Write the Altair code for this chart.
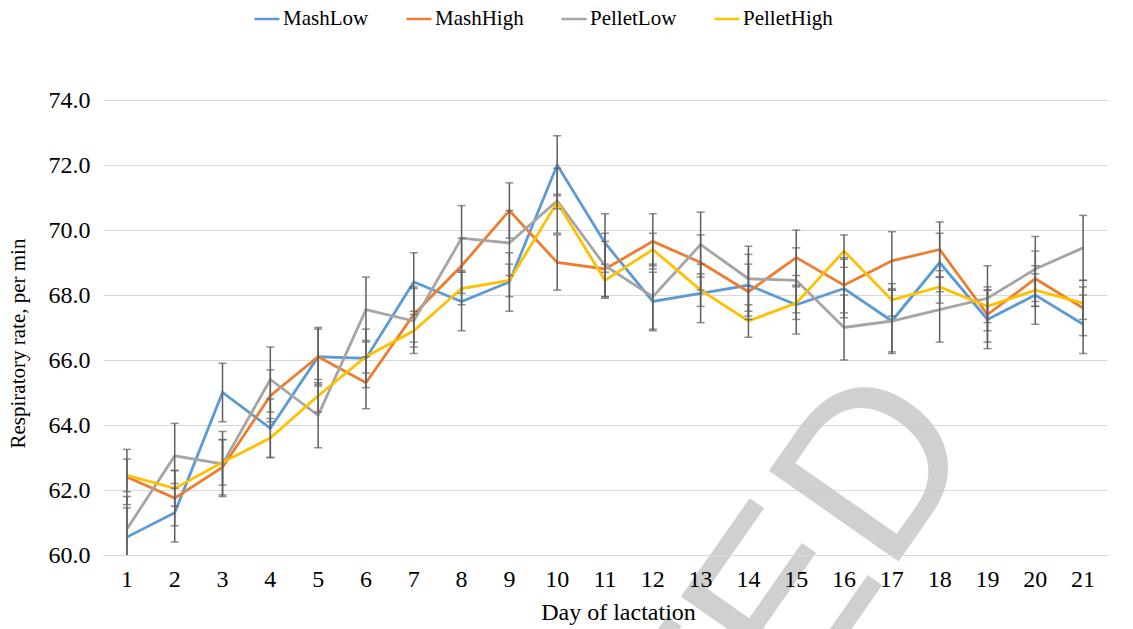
import altair as alt
import pandas as pd

# Day of lactation
days = list(range(1, 22))

# Treatment groups and their line colours
series_names = ["MashLow", "MashHigh", "PelletLow", "PelletHigh"]
series_colors = ["#5B9BD5", "#ED7D31", "#A5A5A5", "#FFC000"]

# Mean respiratory rate (breaths per min)
mash_low = [60.55, 61.30, 65.00, 63.90, 66.10, 66.05, 68.40, 67.80, 68.40, 72.00, 69.60,
            67.80, 68.05, 68.30, 67.70, 68.20, 67.20, 69.00, 67.25, 68.00, 67.10]
mash_high = [62.40, 61.75, 62.70, 64.90, 66.10, 65.30, 67.40, 68.90, 70.60, 69.00, 68.80,
             69.65, 69.00, 68.10, 69.15, 68.30, 69.05, 69.40, 67.40, 68.50, 67.60]
pellet_low = [60.80, 63.05, 62.80, 65.40, 64.30, 67.55, 67.20, 69.75, 69.60, 70.90, 68.90,
              67.95, 69.55, 68.50, 68.45, 67.00, 67.20, 67.55, 67.90, 68.80, 69.45]
pellet_high = [62.45, 62.05, 62.85, 63.60, 64.90, 66.10, 66.90, 68.20, 68.45, 70.85, 68.45,
               69.40, 68.15, 67.20, 67.75, 69.35, 67.85, 68.25, 67.65, 68.15, 67.75]

# Standard errors of the means
mash_low_se = [0.90, 0.90, 0.90, 0.90, 0.90, 0.90, 0.90, 0.90, 0.90, 0.90, 0.90,
               0.90, 0.90, 0.95, 0.90, 0.90, 0.95, 0.90, 0.90, 0.90, 0.90]
mash_high_se = [0.85, 0.85, 0.85, 0.80, 0.85, 0.80, 0.85, 0.85, 0.85, 0.85, 0.85,
                0.85, 0.85, 0.85, 0.85, 0.85, 0.90, 0.85, 0.85, 0.85, 0.85]
pellet_low_se = [1.00, 1.00, 1.00, 1.00, 1.00, 1.00, 1.00, 1.00, 1.00, 1.00, 1.00,
                 1.00, 1.00, 1.00, 1.00, 1.00, 1.00, 1.00, 1.00, 1.00, 1.00]
pellet_high_se = [0.50, 0.55, 0.70, 0.60, 0.50, 0.50, 0.50, 0.50, 0.50, 0.20, 0.50,
                  0.50, 0.50, 0.50, 0.50, 0.50, 0.50, 0.50, 0.50, 0.50, 0.50]

# Y axis tick values
y_ticks = [60, 62, 64, 66, 68, 70, 72, 74]

# Diagonal stamp across the lower right of the plot
stamp_text = ["ACCEPTED"]

means = [mash_low, mash_high, pellet_low, pellet_high]
errors = [mash_low_se, mash_high_se, pellet_low_se, pellet_high_se]

rows = []
for name, vals, ses in zip(series_names, means, errors):
    for d, v, s in zip(days, vals, ses):
        rows.append({"day": d, "group": name, "rate": v, "se": s})
df = pd.DataFrame(rows)

FONT = "Liberation Serif"
GRID = "#D9D9D9"
ERR = "#5F5F5F"
BIG = 24

x_scale = alt.Scale(domain=days, paddingInner=0, paddingOuter=0)

x_enc = alt.X(
    "day:O",
    scale=x_scale,
    axis=alt.Axis(
        title="Day of lactation",
        labelAngle=0,
        ticks=False,
        labelPadding=12,
        domainColor=GRID,
        domainWidth=1,
        grid=False,
        titleX=515,
        titleY=57,
        titleAlign="center",
        titleBaseline="middle",
        titleFontSize=BIG,
        zindex=1,
    ),
)
y_scale = alt.Scale(domain=[60, 74], nice=False, zero=False)

base = alt.Chart(df)

lines = base.mark_line(strokeWidth=2.8, strokeJoin="miter").encode(
    x=x_enc,
    y=alt.Y(
        "rate:Q",
        scale=y_scale,
        axis=alt.Axis(
            title="Respiratory rate, per min",
            values=y_ticks,
            format=".1f",
            ticks=False,
            domain=False,
            labelPadding=13,
            gridColor=GRID,
            gridWidth=1,
            titleAngle=270,
            titleX=-85,
            titleY=243,
            titleAlign="center",
            titleBaseline="middle",
            titleFontSize=21,
        ),
    ),
    color=alt.Color(
        "group:N",
        sort=series_names,
        scale=alt.Scale(domain=series_names, range=series_colors),
        legend=alt.Legend(
            title=None,
            orient="none",
            direction="horizontal",
            legendX=150,
            legendY=-95,
            symbolType="stroke",
            symbolSize=625,
            symbolStrokeWidth=2.5,
            labelOffset=2,
            columnPadding=32,
            labelFontSize=21,
            labelFont=FONT,
            labelColor="#000000",
        ),
    ),
    order=alt.Order("day:Q"),
    detail="group:N",
)

err = base.transform_calculate(
    lo="datum.rate - datum.se", hi="datum.rate + datum.se"
)

err_rules = err.mark_rule(color=ERR, strokeWidth=1.5, clip=True).encode(
    x=alt.X("day:O", scale=x_scale),
    y=alt.Y("lo:Q", scale=y_scale),
    y2="hi:Q",
)
err_caps_lo = err.mark_tick(color=ERR, thickness=1.5, size=8, clip=True).encode(
    x=alt.X("day:O", scale=x_scale),
    y=alt.Y("lo:Q", scale=y_scale),
)
err_caps_hi = err.mark_tick(color=ERR, thickness=1.5, size=8, clip=True).encode(
    x=alt.X("day:O", scale=x_scale),
    y=alt.Y("hi:Q", scale=y_scale),
)

stamp = (
    alt.Chart(pd.DataFrame({"t": stamp_text}))
    .mark_text(
        font="Liberation Sans",
        fontSize=230,
        angle=305,
        align="right",
        baseline="alphabetic",
        color="#C8C8C8",
        opacity=0.85,
    )
    .encode(text="t:N", x=alt.value(880), y=alt.value(341))
)

chart = (
    alt.layer(stamp, lines, err_rules, err_caps_lo, err_caps_hi)
    .properties(
        width=1004,
        height=455,
        autosize=alt.AutoSizeParams(type="none"),
        padding={"left": 103, "top": 100, "right": 26, "bottom": 74},
        background="white",
    )
    .configure(font=FONT)
    .configure_view(stroke=None)
    .configure_axis(
        labelFont=FONT,
        titleFont=FONT,
        labelFontSize=BIG,
        labelColor="#000000",
        titleColor="#000000",
        titleFontWeight="normal",
    )
    .configure_legend(labelFont=FONT)
)

chart.save("out.html", embed_options={"renderer": "svg", "actions": False})
